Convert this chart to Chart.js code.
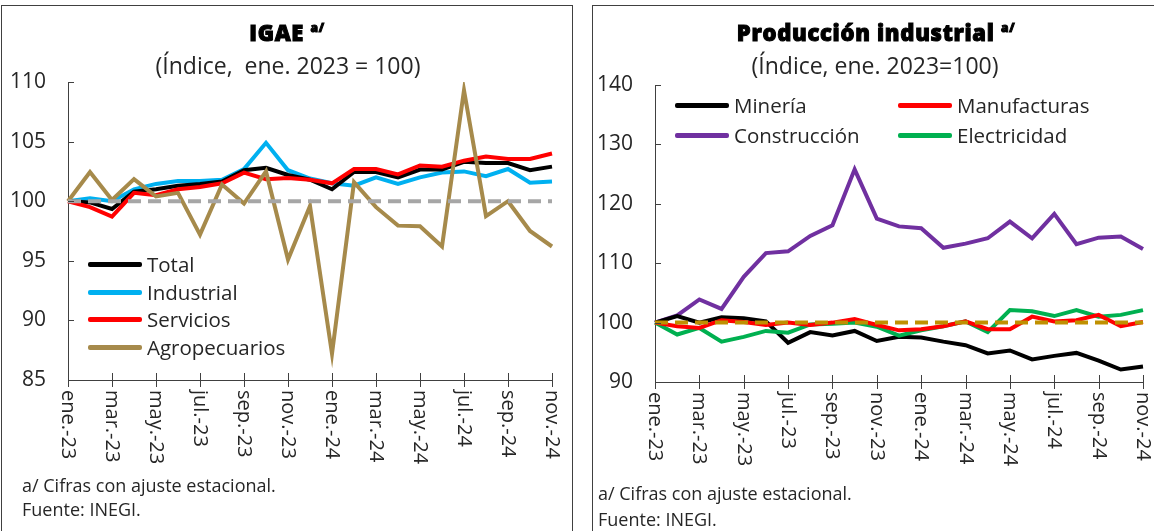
<!DOCTYPE html>
<html lang="es">
<head>
<meta charset="utf-8">
<script src="https://cdn.jsdelivr.net/npm/chart.js@4.4.1/dist/chart.umd.min.js"></script>
<style>
  body { margin: 0; width: 1154px; height: 531px; overflow: hidden; background: #fff;
         font-family: "Open Sans", sans-serif; color: #262626; position: relative; }
  .panel { position: absolute; top: 5px; height: 560px; box-sizing: border-box;
           border: 1px solid #404040; border-bottom: none; }
  #p1 { left: 1px; width: 572px; }
  #p2 { left: 592px; width: 570px; }
  canvas { position: absolute; top: 0; }
  .title { position: absolute; width: 600px; text-align: center; font-weight: 800; font-size: 22px; line-height: 26px;
           color: #000; -webkit-text-stroke: 1px #000; letter-spacing: 0.7px; }
  .title sup { font-size: 12px; vertical-align: 9px; line-height: 0; }
  .sub { position: absolute; width: 600px; text-align: center; font-size: 23px; line-height: 28px; }
  .note { position: absolute; font-size: 18px; line-height: 22px; white-space: nowrap; }
  .leg { position: absolute; font-size: 20.5px; line-height: 24px; white-space: nowrap; }
  .leg span { position: absolute; top: 10px; width: 54px; height: 5px; border-radius: 2px; }
  .leg b { position: absolute; font-weight: normal; left: 59px; top: 0; }
</style>
</head>
<body>
<div class="panel" id="p1"></div>
<div class="panel" id="p2"></div>
<canvas id="igae" width="578" height="531" style="left:0"></canvas>
<canvas id="prod" width="564" height="531" style="left:590px"></canvas>

<div class="title" style="left:-13px; top:19px">IGAE <sup>a/</sup></div>
<div class="sub" style="left:-12px; top:51px">(Índice,&nbsp; ene. 2023 = 100)</div>
<div class="title" style="left:576px; top:19px">Producción industrial <sup>a/</sup></div>
<div class="sub" style="left:575px; top:51px">(Índice, ene. 2023=100)</div>

<div class="note" style="left:22px; top:474px">a/ Cifras con ajuste estacional.</div>
<div class="note" style="left:22px; top:498px">Fuente: INEGI.</div>
<div class="note" style="left:598px; top:482px">a/ Cifras con ajuste estacional.</div>
<div class="note" style="left:598px; top:508px">Fuente: INEGI.</div>

<script>
const months = ['ene.-23','feb.-23','mar.-23','abr.-23','may.-23','jun.-23','jul.-23','ago.-23','sep.-23','oct.-23','nov.-23','dic.-23',
  'ene.-24','feb.-24','mar.-24','abr.-24','may.-24','jun.-24','jul.-24','ago.-24','sep.-24','oct.-24','nov.-24'];

// IGAE
const igaeNames = ['Total', 'Industrial', 'Servicios', 'Agropecuarios'];
const igaeColors = ['#000000', '#00B0F0', '#FF0000', '#A68A4B'];
const igaeTotal = [100, 99.9, 99.35, 100.8, 101.0, 101.3, 101.45, 101.65, 102.6, 102.8, 102.2, 101.8, 101.0, 102.45, 102.45, 102.0, 102.65, 102.65, 103.3, 103.2, 103.2, 102.6, 102.9];
const igaeIndustrial = [100, 100.25, 100.0, 101.0, 101.45, 101.7, 101.7, 101.8, 102.7, 104.9, 102.6, 101.9, 101.5, 101.3, 102.0, 101.45, 102.0, 102.4, 102.5, 102.1, 102.7, 101.55, 101.65];
const igaeServicios = [100, 99.5, 98.7, 100.7, 100.5, 101.0, 101.2, 101.5, 102.4, 101.85, 101.95, 101.8, 101.5, 102.7, 102.7, 102.25, 103.0, 102.9, 103.4, 103.75, 103.55, 103.55, 104.0];
const igaeAgro = [100, 102.45, 100.1, 101.85, 100.4, 100.7, 97.2, 101.4, 99.8, 102.5, 95.1, 99.6, 87.2, 101.6, 99.5, 97.95, 97.9, 96.2, 109.3, 98.75, 100.0, 97.5, 96.2];
const igaeTicks = { min: 85, max: 110, step: 5 };

// Producción industrial
const prodNames = ['Minería', 'Manufacturas', 'Construcción', 'Electricidad'];
const prodColors = ['#000000', '#FF0000', '#7030A0', '#00B050'];
const mineria = [100, 101.1, 100.0, 100.9, 100.75, 100.2, 96.6, 98.4, 97.85, 98.6, 96.9, 97.6, 97.5, 96.8, 96.2, 94.8, 95.3, 93.8, 94.4, 94.9, 93.6, 92.1, 92.6];
const manufacturas = [100, 99.4, 99.1, 100.4, 100.1, 99.6, 100.0, 99.6, 100.0, 100.6, 99.6, 98.7, 98.9, 99.4, 100.2, 98.9, 98.9, 101.0, 100.2, 100.4, 101.3, 99.4, 100.1];
const construccion = [100, 101.2, 103.9, 102.3, 107.7, 111.7, 112.0, 114.6, 116.4, 125.8, 117.5, 116.2, 115.9, 112.6, 113.3, 114.2, 117.0, 114.2, 118.3, 113.2, 114.3, 114.5, 112.4];
const electricidad = [100, 98.0, 99.1, 96.8, 97.6, 98.6, 98.3, 99.7, 99.8, 100.0, 99.3, 97.8, 98.7, 99.4, 100.2, 98.4, 102.1, 101.9, 101.1, 102.1, 101.0, 101.3, 102.1];
const prodTicks = { min: 90, max: 140, step: 10 };

const base = months.map(() => 100);

// ticks del eje x cruzando la linea, etiquetas giradas hacia abajo
const axisDeco = {
  id: 'axisDeco',
  afterDraw(chart) {
    const { ctx, chartArea, scales: { x, y } } = chart;
    ctx.save();
    ctx.strokeStyle = '#404040';
    ctx.lineWidth = 1;
    y.ticks.forEach(t => {
      const py = Math.round(y.getPixelForValue(t.value)) + 0.5;
      ctx.beginPath();
      ctx.moveTo(chartArea.left, py);
      ctx.lineTo(chartArea.left + 6, py);
      ctx.stroke();
    });
    ctx.fillStyle = '#262626';
    ctx.font = '20px "Open Sans"';
    ctx.textAlign = 'left';
    ctx.textBaseline = 'middle';
    months.forEach((m, i) => {
      if (i % 2) return;
      const px = Math.round(x.getPixelForValue(i)) + 0.5;
      ctx.beginPath();
      ctx.moveTo(px, chartArea.bottom - 7);
      ctx.lineTo(px, chartArea.bottom + 7);
      ctx.stroke();
      ctx.save();
      ctx.translate(px - 1, chartArea.bottom + 10);
      ctx.rotate(Math.PI / 2);
      ctx.fillText(m, 0, 0);
      ctx.restore();
    });
    ctx.restore();
  }
};

function line(label, data, color, order) {
  return { label, data, borderColor: color, borderWidth: 4, pointRadius: 0, tension: 0, fill: false, order };
}

function makeChart(id, datasets, ticks, axisWidth, padRight, axisBottom, baseColor) {
  datasets.push({ label: 'base', data: base, borderColor: baseColor, borderWidth: 4, borderDash: [13, 7],
                  pointRadius: 0, fill: false, order: 0 });
  new Chart(document.getElementById(id), {
    type: 'line',
    data: { labels: months, datasets },
    options: {
      responsive: false,
      animation: false,
      layout: { padding: { top: ticks.top, left: 0, right: padRight, bottom: 0 } },
      plugins: { legend: { display: false }, tooltip: { enabled: false } },
      scales: {
        x: {
          offset: false,
          grid: { display: false },
          border: { color: '#404040', width: 1 },
          ticks: { display: false },
          afterFit(s) { s.height = 531 - axisBottom; }
        },
        y: {
          min: ticks.min, max: ticks.max,
          grid: { display: false, drawTicks: false },
          border: { color: '#404040', width: 1 },
          ticks: { stepSize: ticks.step, padding: 22, color: '#262626', font: { family: 'Open Sans', size: 21 } },
          afterFit(s) { s.width = axisWidth; }
        }
      }
    },
    plugins: [axisDeco]
  });
}

makeChart('igae', [
  line(igaeNames[1], igaeIndustrial, igaeColors[1], 5),
  line(igaeNames[0], igaeTotal, igaeColors[0], 4),
  line(igaeNames[2], igaeServicios, igaeColors[2], 3),
  line(igaeNames[3], igaeAgro, igaeColors[3], 2)
], Object.assign({ top: 82 }, igaeTicks), 68, 26, 380, '#A6A6A6');

makeChart('prod', [
  line(prodNames[2], construccion, prodColors[2], 5),
  line(prodNames[0], mineria, prodColors[0], 4),
  line(prodNames[3], electricidad, prodColors[3], 3),
  line(prodNames[1], manufacturas, prodColors[1], 2)
], Object.assign({ top: 85 }, prodTicks), 65, 11, 382, '#BF9000');

// leyendas
function legendItem(name, color, left, top) {
  const d = document.createElement('div');
  d.className = 'leg';
  d.style.left = left + 'px';
  d.style.top = top + 'px';
  d.innerHTML = '<span style="background:' + color + '"></span><b>' + name + '</b>';
  document.body.appendChild(d);
}
igaeNames.forEach((n, i) => legendItem(n, igaeColors[i], 88, 252 + i * 27.7));
prodNames.forEach((n, i) => legendItem(n, prodColors[i], i % 2 ? 898 : 675, 93 + Math.floor(i / 2) * 29.5));
</script>
</body>
</html>
